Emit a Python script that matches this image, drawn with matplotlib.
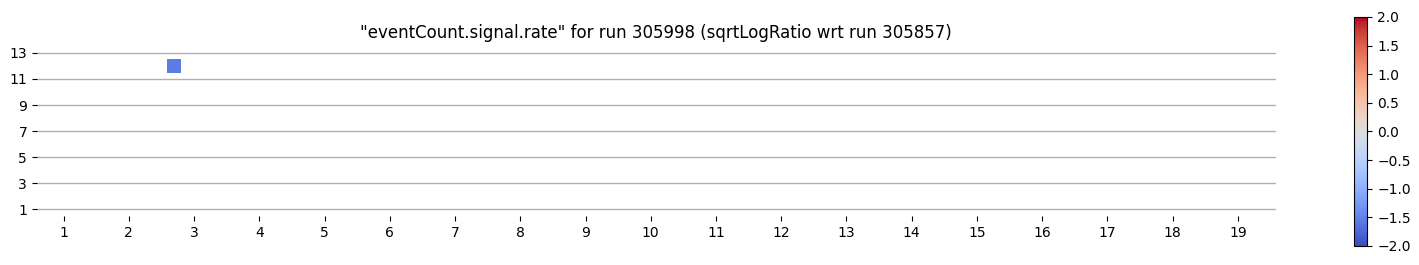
import numpy as np
import matplotlib
matplotlib.use("Agg")
import matplotlib.pyplot as plt
from matplotlib.colors import Normalize

# data
x_vals = [2.69]
y_vals = [12]
z_vals = [-1.55]
x_ticks = list(range(1, 20))
y_ticks = list(range(1, 14, 2))

fig = plt.figure(figsize=(14.19, 2.65), dpi=100)
ax = fig.add_axes([0.026, 0.185, 0.873, 0.64])
cax = fig.add_axes([0.9545, 0.072, 0.0092, 0.864])

norm = Normalize(vmin=-2, vmax=2)
sc = ax.scatter(x_vals, y_vals, c=z_vals, cmap="coolwarm", norm=norm,
                marker="s", s=92, linewidths=0, zorder=3)

ax.set_xticks(x_ticks)
ax.set_yticks(y_ticks)
ax.set_xlim(0.59, 19.58)
ax.set_ylim(0.5, 13.5)
ax.grid(axis="y", color="#b0b0b0", linewidth=1)
ax.set_axisbelow(True)
for s in ax.spines.values():
    s.set_visible(False)
ax.set_title('"eventCount.signal.rate" for run 305998 (sqrtLogRatio wrt run 305857)',
             fontsize=12)

cb = fig.colorbar(sc, cax=cax)
cb.set_ticks(np.arange(-2, 2.01, 0.5))

fig.savefig("out.png", dpi=100)
